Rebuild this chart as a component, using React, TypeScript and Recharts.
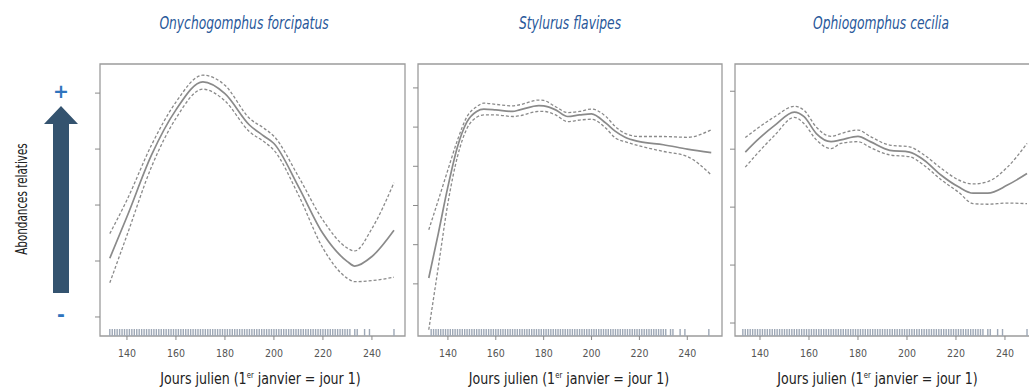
import React from 'react';
import { ComposedChart, Line, Scatter, XAxis, YAxis, ReferenceArea } from 'recharts';

// ---- data ----
const xTicks = [140, 160, 180, 200, 220, 240];

const species = ['Onychogomphus forcipatus', 'Stylurus flavipes', 'Ophiogomphus cecilia'];
const yTitle = 'Abondances relatives';

// Onychogomphus forcipatus
const days1 = [133, 140, 150, 160, 171, 180, 190, 196, 200, 210, 220, 230, 233, 240, 249];
const fit1 = [1.05, 1.79, 2.89, 3.7, 4.2, 3.99, 3.43, 3.23, 3.1, 2.33, 1.49, 0.99, 0.91, 1.08, 1.55];
const upper1 = [1.49, 2.09, 3.07, 3.84, 4.32, 4.14, 3.55, 3.37, 3.23, 2.51, 1.73, 1.23, 1.18, 1.58, 2.4];
const lower1 = [0.61, 1.46, 2.68, 3.55, 4.07, 3.86, 3.31, 3.13, 2.98, 2.18, 1.23, 0.69, 0.63, 0.65, 0.71];

// Stylurus flavipes
const days2 = [132, 136, 140, 144, 148, 152, 155, 160, 167, 170, 178, 180, 185, 190, 195, 200, 206, 210, 214, 220, 230, 240, 250];
const fit2 = [0.15, 1.29, 2.48, 3.5, 4.14, 4.4, 4.46, 4.44, 4.4, 4.44, 4.55, 4.54, 4.44, 4.27, 4.31, 4.34, 4.1, 3.89, 3.74, 3.63, 3.55, 3.44, 3.35];
const upper2 = [1.38, 2.14, 2.91, 3.67, 4.27, 4.52, 4.61, 4.58, 4.54, 4.57, 4.69, 4.68, 4.52, 4.37, 4.4, 4.46, 4.27, 4.01, 3.84, 3.76, 3.76, 3.74, 3.93];
const lower2 = [-1.17, 0.44, 2.06, 3.25, 3.97, 4.25, 4.31, 4.31, 4.27, 4.29, 4.4, 4.4, 4.31, 4.14, 4.18, 4.2, 3.97, 3.72, 3.63, 3.52, 3.38, 3.25, 2.78];

// Ophiogomphus cecilia
const days3 = [134, 139, 146, 154, 158, 163, 169, 173, 180, 185, 193, 201, 207, 214, 221, 227, 233, 241, 249];
const fit3 = [2.95, 3.16, 3.41, 3.64, 3.56, 3.27, 3.13, 3.16, 3.22, 3.13, 2.98, 2.95, 2.81, 2.55, 2.35, 2.24, 2.24, 2.38, 2.58];
const upper3 = [3.2, 3.36, 3.56, 3.74, 3.67, 3.38, 3.22, 3.27, 3.33, 3.22, 3.07, 3.04, 2.9, 2.67, 2.47, 2.4, 2.44, 2.69, 3.1];
const lower3 = [2.69, 2.93, 3.24, 3.55, 3.44, 3.16, 3.01, 3.1, 3.13, 3.03, 2.9, 2.87, 2.72, 2.47, 2.26, 2.06, 2.05, 2.07, 2.06];

// observation days (rug)
const rugDays = [
  133, 134, 135, 136, 137, 138, 139, 140, 141, 142, 143, 144, 145, 146, 147, 148, 149, 150,
  151, 152, 153, 154, 155, 156, 157, 158, 159, 160, 161, 162, 163, 164, 165, 166, 167, 168,
  169, 170, 171, 172, 173, 174, 175, 176, 177, 178, 179, 180, 181, 182, 183, 184, 185, 186,
  187, 188, 189, 190, 191, 192, 193, 194, 195, 196, 197, 198, 199, 200, 201, 202, 203, 204,
  205, 206, 207, 208, 209, 210, 211, 212, 213, 214, 215, 216, 217, 218, 219, 220, 221, 222,
  223, 224, 225, 226, 227, 228, 229, 230, 231, 233, 234, 237, 239, 249,
];

const FONT_NARROW = "'DejaVu Sans Condensed', 'DejaVu Sans', sans-serif";
const FONT_TICK = "'DejaVu Sans Condensed', 'DejaVu Sans', sans-serif";
const GREY = '#8a8a8a';
const FRAME = '#9c9c9c';
const TITLE_BLUE = '#28589a';
const SIGN_BLUE = '#2f74bd';
const ARROW = '#34536f';

type Row = { day: number; fit: number; upper: number; lower: number };

function buildRows(days: number[], fit: number[], up: number[], lo: number[]): Row[] {
  return days.map((d, i) => ({ day: d, fit: fit[i], upper: up[i], lower: lo[i] }));
}

const RugMark = (props: any) => {
  const { cx, cy } = props;
  if (cx == null || cy == null) return <g />;
  return <line x1={cx} x2={cx} y1={cy} y2={cy - 7} stroke="#9ea8b6" strokeWidth={1.4} />;
};

const EmptyTick = () => <g />;

const makeXTitle = (dx: number) => (props: any) => {
  const vb = props.viewBox || { x: 0, y: 0, width: 0 };
  const cx = vb.x + vb.width / 2 + dx;
  return (
    <text
      x={0}
      y={0}
      transform={`translate(${cx},${vb.y + 48}) scale(0.85,1)`}
      textAnchor="middle"
      fontFamily={FONT_NARROW}
      fontSize={16.5}
      fill="#222"
    >
      Jours julien (1<tspan fontSize={9} dy={-6}>er</tspan>
      <tspan dy={6}> janvier = jour 1)</tspan>
    </text>
  );
};

type PanelProps = {
  left: number;
  width: number;
  rows: Row[];
  xDomain: [number, number];
  yDomain: [number, number];
  yTicks: number[];
  titleDx: number;
};

function Panel({ left, width, rows, xDomain, yDomain, yTicks, titleDx }: PanelProps) {
  const rug = rugDays.map((d) => ({ day: d, rug: yDomain[0] }));
  return (
    <div style={{ position: 'absolute', left, top: 0 }}>
      <ComposedChart width={width} height={390} data={rows} margin={{ top: 64, right: 5, bottom: 0, left: 0 }}>
        <XAxis
          dataKey="day"
          type="number"
          domain={xDomain}
          allowDataOverflow
          ticks={xTicks}
          interval={0}
          axisLine={false}
          tickLine={{ stroke: GREY }}
          tickSize={4}
          tickMargin={10}
          tick={{ fontSize: 10.5, fill: '#555', fontFamily: FONT_TICK }}
          height={54}
          label={makeXTitle(titleDx)}
        />
        <YAxis
          type="number"
          domain={yDomain}
          allowDataOverflow
          ticks={yTicks}
          interval={0}
          tick={EmptyTick}
          axisLine={false}
          tickLine={{ stroke: GREY }}
          tickSize={5}
          width={10}
        />
        <ReferenceArea
          x1={xDomain[0]}
          x2={xDomain[1]}
          y1={yDomain[0]}
          y2={yDomain[1]}
          fill="none"
          fillOpacity={0}
          stroke={FRAME}
          strokeWidth={1.3}
        />
        <Scatter data={rug} dataKey="rug" shape={RugMark} isAnimationActive={false} />
        <Line dataKey="upper" type="monotone" stroke={GREY} strokeWidth={1.3} strokeDasharray="3 2" dot={false} activeDot={false} isAnimationActive={false} />
        <Line dataKey="lower" type="monotone" stroke={GREY} strokeWidth={1.3} strokeDasharray="3 2" dot={false} activeDot={false} isAnimationActive={false} />
        <Line dataKey="fit" type="monotone" stroke={GREY} strokeWidth={1.7} dot={false} activeDot={false} isAnimationActive={false} />
      </ComposedChart>
    </div>
  );
}

const SpeciesTitle = ({ x, label }: { x: number; label: string }) => (
  <text
    x={0}
    y={0}
    transform={`translate(${x},29) scale(0.76,1)`}
    textAnchor="middle"
    fontFamily={FONT_NARROW}
    fontStyle="italic"
    fontSize={18}
    fill={TITLE_BLUE}
  >
    {label}
  </text>
);

export default function App() {
  const rows1 = buildRows(days1, fit1, upper1, lower1);
  const rows2 = buildRows(days2, fit2, upper2, lower2);
  const rows3 = buildRows(days3, fit3, upper3, lower3);
  return (
    <div style={{ position: 'fixed', left: 0, top: 0, width: 1029, height: 390, overflow: 'hidden', background: '#fff' }}>
      <Panel left={90} width={320} rows={rows1} xDomain={[129, 253.5]} yDomain={[-0.34, 4.52]} yTicks={[0, 1, 2, 3, 4]} titleDx={8} />
      <Panel left={408} width={319} rows={rows2} xDomain={[127.5, 254.5]} yDomain={[-1.33, 5.61]} yTicks={[0, 1, 2, 3, 4, 5]} titleDx={-1} />
      <Panel left={725} width={320} rows={rows3} xDomain={[129.8, 254.3]} yDomain={[-0.224, 4.47]} yTicks={[0, 1, 2, 3, 4]} titleDx={-10} />
      <svg width={1029} height={390} style={{ position: 'absolute', left: 0, top: 0, pointerEvents: 'none' }}>
        <SpeciesTitle x={244} label={species[0]} />
        <SpeciesTitle x={570} label={species[1]} />
        <SpeciesTitle x={881} label={species[2]} />
        <text
          x={0}
          y={0}
          transform="translate(27,199) rotate(-90) scale(0.7,1)"
          textAnchor="middle"
          fontFamily={FONT_NARROW}
          fontSize={16.5}
          fill="#222"
        >
          {yTitle}
        </text>
        <text x={61} y={98} textAnchor="middle" fontFamily="'DejaVu Sans', sans-serif" fontWeight="bold" fontSize={19} fill={SIGN_BLUE}>
          +
        </text>
        <text x={61} y={321} textAnchor="middle" fontFamily="'DejaVu Sans', sans-serif" fontWeight="bold" fontSize={19} fill={SIGN_BLUE}>
          -
        </text>
        <polygon points="61,106 78,124 69,124 69,293 53,293 53,124 44,124" fill={ARROW} />
      </svg>
    </div>
  );
}
